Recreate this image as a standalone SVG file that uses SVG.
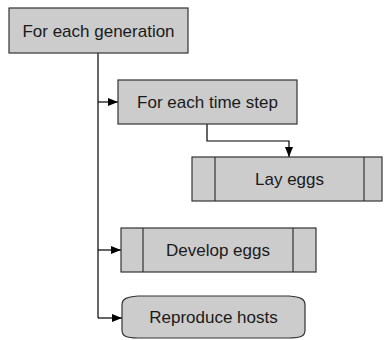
<svg xmlns="http://www.w3.org/2000/svg" width="384" height="340" viewBox="0 0 384 340">
<defs>
<style>
.box{fill:#cccccc;stroke:#333333;stroke-width:1.2}
.line{fill:none;stroke:#000000;stroke-width:1.2}
text{font-family:"Liberation Sans",Arial,sans-serif;font-size:17px;fill:#1a1a1a;text-anchor:middle;dominant-baseline:central}
</style>
<marker id="arr" viewBox="0 0 10 8" refX="10" refY="4" markerWidth="10" markerHeight="8" markerUnits="userSpaceOnUse" orient="auto">
<path d="M0,0 L10,4 L0,8 Z" fill="#000"/>
</marker>
</defs>
<rect width="384" height="340" fill="#ffffff"/>
<g id="connectors">
<path class="line" d="M98,53 V318"/>
<path class="line" d="M98,102 H118" marker-end="url(#arr)"/>
<path class="line" d="M98,250 H121" marker-end="url(#arr)"/>
<path class="line" d="M98,318 H122" marker-end="url(#arr)"/>
<path class="line" d="M207,124 V141 H289 V157" marker-end="url(#arr)"/>
</g>
<g id="for-each-generation">
<rect class="box" x="9" y="8" width="179" height="45"/>
<text x="98.5" y="31">For each generation</text>
</g>
<g id="for-each-time-step">
<rect class="box" x="118" y="80" width="179" height="44"/>
<text x="207.5" y="102">For each time step</text>
</g>
<g id="lay-eggs">
<rect class="box" x="192" y="157" width="190" height="44"/>
<path class="line" d="M215,157 V201 M364,157 V201" style="stroke:#333"/>
<text x="289.5" y="179">Lay eggs</text>
</g>
<g id="develop-eggs">
<rect class="box" x="121" y="228" width="195" height="44"/>
<path class="line" d="M143,228 V272 M293,228 V272" style="stroke:#333"/>
<text x="218" y="250">Develop eggs</text>
</g>
<g id="reproduce-hosts">
<path class="box" d="M122,305 C122,299 126,297 138,296 L289,296 C301,297 305,299 305,305 L305,330 C305,336 301,338 289,338 L138,338 C126,338 122,336 122,330 Z"/>
<text x="213.5" y="317">Reproduce hosts</text>
</g>
</svg>
